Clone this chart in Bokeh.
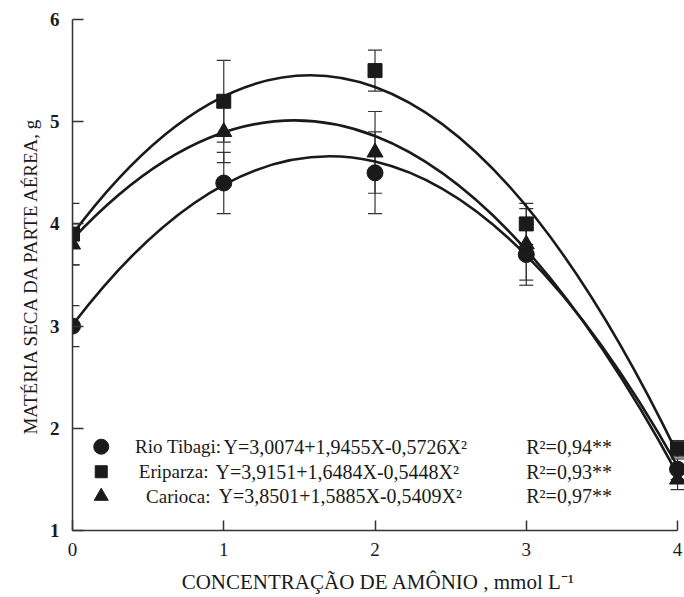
from bokeh.plotting import figure
from bokeh.models import ColumnDataSource, Whisker, TeeHead, Range1d, FixedTicker, Label
from bokeh.embed import file_html
from bokeh.resources import INLINE

# ---------------- data ----------------
conc = [0, 1, 2, 3, 4]
rio_tibagi = [3.0, 4.4, 4.5, 3.7, 1.6]
rio_tibagi_err = [0.2, 0.3, 0.4, 0.3, 0.1]
eriparza = [3.9, 5.2, 5.5, 4.0, 1.8]
eriparza_err = [0.3, 0.4, 0.2, 0.2, 0.08]
carioca = [3.8, 4.9, 4.7, 3.8, 1.5]
carioca_err = [0.2, 0.3, 0.4, 0.35, 0.1]

# fitted quadratic curves at X = 0, 2 and 4
curve_x_start = [0, 0, 0]
curve_x_mid = [2, 2, 2]
curve_x_end = [4, 4, 4]
curve_y_start = [3.01, 3.90, 3.85]   # Rio Tibagi, Eriparza, Carioca
curve_y_mid = [4.61, 5.34, 4.86]
curve_y_end = [1.63, 1.75, 1.55]

names = ["Rio Tibagi:", "Eriparza:", "Carioca:"]
equations = ["Y=3,0074+1,9455X-0,5726X²", "Y=3,9151+1,6484X-0,5448X²", "Y=3,8501+1,5885X-0,5409X²"]
r_squared = ["R²=0,94**", "R²=0,93**", "R²=0,97**"]

x_ticks = [0, 1, 2, 3, 4]
y_ticks = [1, 2, 3, 4, 5, 6]

# ---------------- styling / layout ----------------
INK = "#1a1a1a"
SERIF = "'Liberation Serif', 'Times New Roman', serif"

p = figure(width=684, height=596, x_range=Range1d(0, 4.046), y_range=Range1d(1, 6),
           output_backend="svg", toolbar_location=None,
           min_border_left=72, min_border_right=0, min_border_top=19, min_border_bottom=66)
p.xgrid.visible = False
p.ygrid.visible = False
p.outline_line_color = None
p.background_fill_color = "white"

for ax in (p.xaxis[0], p.yaxis[0]):
    ax.axis_line_color = "#333333"
    ax.axis_line_width = 1.5
    ax.major_tick_line_color = "#333333"
    ax.major_tick_line_width = 1.5
    ax.major_tick_out = 0
    ax.minor_tick_line_color = None
    ax.major_label_text_font = SERIF
    ax.major_label_text_color = INK
    ax.axis_label_text_font = SERIF
    ax.axis_label_text_font_style = "normal"
    ax.axis_label_text_color = INK

p.xaxis.ticker = FixedTicker(ticks=x_ticks)
p.xaxis.bounds = (0, 4)
p.xaxis.major_tick_in = 10
p.xaxis.major_label_standoff = 12
p.xaxis.major_label_text_font_size = "19px"
p.xaxis.axis_label = "CONCENTRAÇÃO DE AMÔNIO , mmol L⁻¹"
p.xaxis.axis_label_text_font_size = "21px"
p.xaxis.axis_label_standoff = 11

p.yaxis.ticker = FixedTicker(ticks=y_ticks)
p.yaxis.major_tick_in = 11
p.yaxis.major_label_standoff = 13
p.yaxis.major_label_text_font_size = "19px"
p.yaxis.major_label_text_font_style = "bold"
p.yaxis.axis_label = "MATÉRIA SECA DA PARTE AÉREA, g"
p.yaxis.axis_label_text_font_size = "19px"
p.yaxis.axis_label_standoff = 6

# error bars
for vals, errs in ((rio_tibagi, rio_tibagi_err), (eriparza, eriparza_err), (carioca, carioca_err)):
    src = ColumnDataSource(dict(x=conc,
                                upper=[v + e for v, e in zip(vals, errs)],
                                lower=[v - e for v, e in zip(vals, errs)]))
    w = Whisker(source=src, base="x", upper="upper", lower="lower",
                line_color="#333333", line_width=1.2,
                upper_head=TeeHead(size=14, line_color="#333333", line_width=1.2),
                lower_head=TeeHead(size=14, line_color="#333333", line_width=1.2),
                level="underlay")
    p.add_layout(w)

# fitted curves: a parabola through three read points is one quadratic Bezier
curve_cy = [2 * m - 0.5 * (s + e) for s, m, e in zip(curve_y_start, curve_y_mid, curve_y_end)]
p.quadratic(x0=curve_x_start, y0=curve_y_start, x1=curve_x_end, y1=curve_y_end,
            cx=curve_x_mid, cy=curve_cy, line_color=INK, line_width=2.6)

# data markers
p.scatter(conc, rio_tibagi, marker="circle", size=16, fill_color=INK, line_color=INK)
p.scatter(conc, eriparza, marker="square", size=14, fill_color=INK, line_color=INK)
p.scatter(conc, carioca, marker="triangle", size=16, fill_color=INK, line_color=INK)

# legend block (inside plot, lower left)
leg_x = 0.19
leg_y = [1.82, 1.575, 1.335]
name_end_x = [0.985, 0.899, 0.912]
eq_x = [0.998, 0.945, 0.965]
r2_x = 3.0
p.scatter([leg_x], [leg_y[0]], marker="circle", size=15, fill_color=INK, line_color=INK)
p.scatter([leg_x], [leg_y[1]], marker="square", size=12, fill_color=INK, line_color=INK)
p.scatter([leg_x], [leg_y[2]], marker="triangle", size=14, fill_color=INK, line_color=INK)
for i in range(3):
    p.add_layout(Label(x=name_end_x[i], y=leg_y[i], text=names[i], text_font=SERIF,
                       text_font_size="19px", text_align="right", text_baseline="middle",
                       text_color=INK))
    p.add_layout(Label(x=eq_x[i], y=leg_y[i], text=equations[i], text_font=SERIF,
                       text_font_size="20px", text_baseline="middle", text_color=INK))
    p.add_layout(Label(x=r2_x, y=leg_y[i], text=r_squared[i], text_font=SERIF,
                       text_font_size="20px", text_baseline="middle", text_color=INK))

open("out.html", "w").write(file_html(p, INLINE))
